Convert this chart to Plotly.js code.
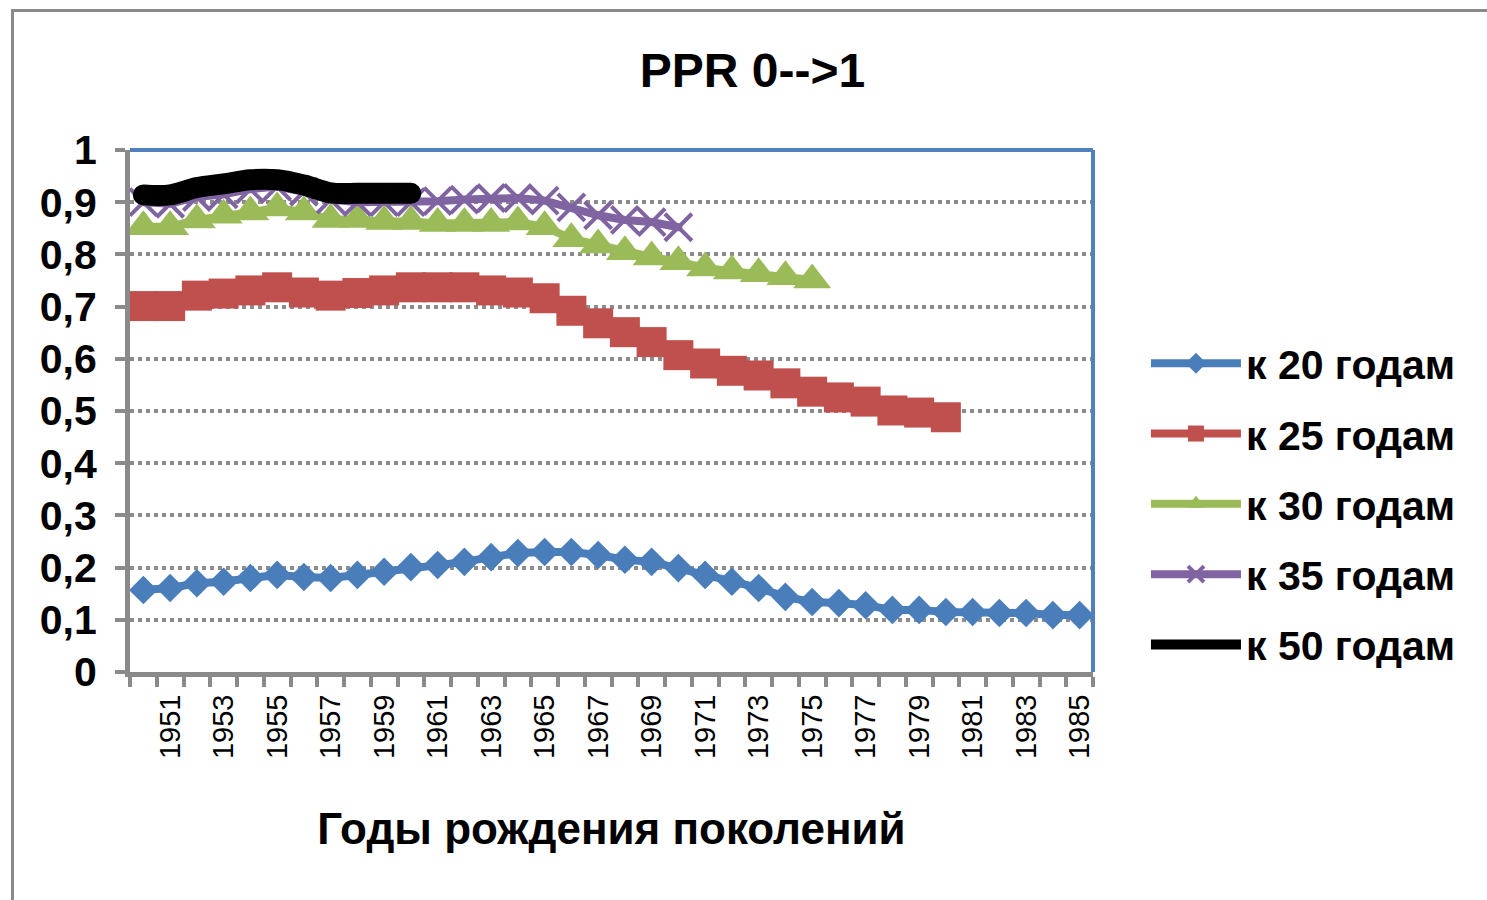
<!DOCTYPE html>
<html>
<head>
<meta charset="utf-8">
<script src="https://cdn.plot.ly/plotly-3.0.1.min.js"></script>
<style>
  html, body { margin: 0; padding: 0; background: #ffffff; }
  #wrap { position: relative; width: 1487px; height: 900px; overflow: hidden; }
  #chart { position: absolute; left: 0; top: 0; width: 1487px; height: 900px; }
  #frame { position: absolute; left: 11px; top: 9px; width: 1500px; height: 920px;
           border-left: 3px solid #8a8a8a; border-top: 3px solid #8a8a8a; pointer-events: none; }
  #chart .scatterlayer path.js-line { stroke-linecap: round; }
</style>
</head>
<body>
<div id="wrap">
  <div id="chart"></div>
  <div id="frame"></div>
</div>
<script>
// Categories: birth years of generations (labels are illegible in the reference)
const years = ["1950","1951","1952","1953","1954","1955","1956","1957","1958","1959",
               "1960","1961","1962","1963","1964","1965","1966","1967","1968","1969",
               "1970","1971","1972","1973","1974","1975","1976","1977","1978","1979",
               "1980","1981","1982","1983","1984","1985"];

const seriesNames = ["к 20 годам", "к 25 годам", "к 30 годам", "к 35 годам", "к 50 годам"];

const by20 = [0.157,0.161,0.170,0.173,0.180,0.186,0.182,0.180,0.186,0.192,
              0.201,0.205,0.211,0.220,0.228,0.230,0.230,0.224,0.215,0.211,
              0.199,0.186,0.173,0.161,0.144,0.134,0.132,0.128,0.119,0.119,
              0.115,0.115,0.113,0.113,0.109,0.109];

const by25 = [0.701,0.701,0.721,0.725,0.731,0.737,0.727,0.721,0.726,0.731,
              0.737,0.737,0.737,0.731,0.727,0.716,0.692,0.668,0.651,0.632,
              0.607,0.591,0.577,0.568,0.553,0.537,0.526,0.518,0.501,0.497,
              0.488];

const by30 = [0.853,0.853,0.866,0.875,0.881,0.889,0.881,0.867,0.867,0.863,
              0.863,0.859,0.859,0.859,0.862,0.853,0.830,0.818,0.805,0.795,
              0.786,0.774,0.768,0.763,0.757,0.751];

const by35 = [0.900,0.897,0.910,0.915,0.925,0.930,0.920,0.905,0.900,0.900,
              0.900,0.902,0.905,0.908,0.908,0.903,0.890,0.875,0.866,0.862,
              0.852];

const by50 = [0.914,0.914,0.928,0.935,0.943,0.943,0.933,0.918,0.917,0.917,
              0.917];

const FONT = "Liberation Sans, Arial, sans-serif";

function mk(vals, name, color, lineW, marker, shape) {
  const t = {
    type: "scatter",
    mode: marker ? "lines+markers" : "lines",
    x: years.slice(0, vals.length),
    y: vals,
    name: name,
    legendgroup: name,
    line: { color: color, width: lineW, shape: shape || "linear" },
    hoverinfo: "x+y+name"
  };
  if (marker) t.marker = marker;
  return t;
}

const traces = [
  mk(by20, seriesNames[0], "#4a7ebb", 8, { symbol: "diamond", size: 22, color: "#4a7ebb" }),
  mk(by25, seriesNames[1], "#c0504d", 8, { symbol: "square", size: 30, color: "#c0504d" }),
  mk(by30, seriesNames[2], "#9bbb59", 8, { symbol: "triangle-up", size: 33, color: "#9bbb59" }),
  mk(by35, seriesNames[3], "#8064a2", 8, { symbol: "x-thin", size: 27, color: "#8064a2",
                                          line: { color: "#8064a2", width: 4 } }),
  mk(by50, seriesNames[4], "#000000", 21, null, "spline")
];

// every other category carries a label
const tickText = years.map((y, i) => (i % 2 === 1 ? y : ""));

const layout = {
  width: 1487,
  height: 900,
  paper_bgcolor: "#ffffff",
  plot_bgcolor: "#ffffff",
  separators: ", ",
  margin: { l: 130, r: 394, t: 150, b: 228, pad: 0 },
  font: { family: FONT, color: "#000000" },
  title: {
    text: "PPR 0-->1",
    font: { family: FONT, size: 48, weight: "bold", color: "#000000" },
    x: 0.506, xref: "container", xanchor: "center",
    y: 0.922, yref: "container", yanchor: "middle"
  },
  xaxis: {
    type: "category",
    categoryorder: "array",
    categoryarray: years,
    range: [-0.5, years.length - 0.5],
    tickmode: "array",
    tickvals: years,
    ticktext: tickText,
    tickson: "boundaries",
    ticks: "outside",
    ticklen: 10,
    tickwidth: 4,
    tickcolor: "#8a8a8a",
    tickangle: -90,
    ticklabelstandoff: 6,
    tickfont: { family: FONT, size: 29, color: "#000000" },
    showgrid: false,
    showline: true,
    linecolor: "#8a8a8a",
    linewidth: 5,
    zeroline: false,
    automargin: false,
    title: {
      text: "Годы рождения поколений",
      font: { family: FONT, size: 44, weight: "bold", color: "#000000" },
      standoff: 57
    }
  },
  yaxis: {
    range: [0, 1],
    tickmode: "linear",
    tick0: 0,
    dtick: 0.1,
    ticks: "outside",
    ticklen: 10,
    tickwidth: 4,
    tickcolor: "#8a8a8a",
    ticklabelstandoff: 10,
    tickfont: { family: FONT, size: 41, weight: "bold", color: "#000000" },
    showgrid: true,
    gridcolor: "#8c8c8c",
    gridwidth: 4,
    griddash: "dot",
    showline: true,
    linecolor: "#8a8a8a",
    linewidth: 5,
    zeroline: false,
    automargin: false
  },
  shapes: [
    { type: "line", xref: "paper", yref: "paper", x0: 0, x1: 1, y0: 1, y1: 1,
      line: { color: "#4f81bd", width: 4 } },
    { type: "line", xref: "paper", yref: "paper", x0: 1, x1: 1, y0: 0, y1: 1,
      line: { color: "#4f81bd", width: 4 } }
  ],
  showlegend: true,
  legend: {
    x: 1.055, xanchor: "left",
    y: 0.655, yanchor: "top",
    font: { family: FONT, size: 41, weight: "bold", color: "#000000" },
    traceorder: "grouped",
    tracegroupgap: 14,
    itemwidth: 90,
    bgcolor: "rgba(0,0,0,0)",
    borderwidth: 0
  },
  hovermode: "closest"
};

Plotly.newPlot("chart", traces, layout, { displayModeBar: false, staticPlot: true });
</script>
</body>
</html>
